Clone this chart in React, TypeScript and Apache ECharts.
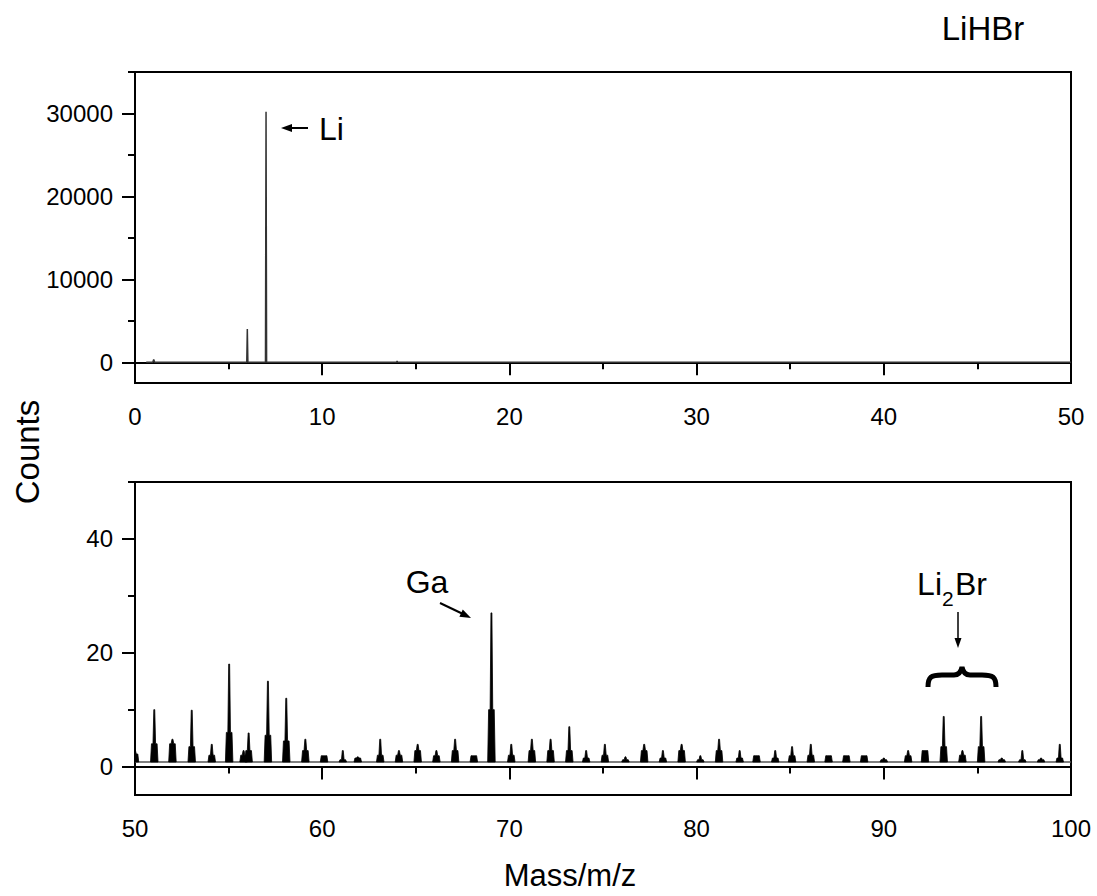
import React, { useEffect, useRef } from "react";
import * as echarts from "echarts";

// ---------- data ----------
// Top panel (m/z 0-50): spectrum trace points [mass, counts]
const topMass = [0.6, 0.95, 1.0, 1.05, 5.97, 6.0, 6.03, 6.97, 7.0, 7.03, 13.97, 14.0, 14.03, 50];
const topCounts = [0, 0, 350, 0, 0, 4000, 0, 0, 30200, 0, 0, 150, 0, 0];

// Bottom panel (m/z 50-100): peaks [mass, peak height, body height]
const peakMass = [
  50.0, 51.03, 52.0, 53.03, 54.1, 55.03, 55.8, 56.07, 57.1, 58.08, 59.1, 60.1, 61.1, 61.9,
  63.1, 64.1, 65.1, 66.1, 67.1, 68.1, 69.04, 70.1, 71.2, 72.2, 73.2, 74.1, 75.1, 76.2,
  77.2, 78.2, 79.2, 80.2, 81.2, 82.3, 83.2, 84.2, 85.1, 86.1, 87.05, 88.0, 88.95, 90.0,
  91.3, 92.2, 93.2, 94.2, 95.2, 96.3, 97.4, 98.4, 99.4,
];
const peakHeight = [
  2.8, 10, 4.8, 9.9, 3.9, 18, 2.8, 5.9, 15, 12, 4.8, 1.9, 2.8, 1.7,
  4.8, 2.8, 3.9, 2.8, 4.8, 1.9, 27, 3.9, 4.8, 4.8, 7.0, 2.8, 3.9, 1.7,
  3.9, 2.8, 3.9, 1.9, 4.8, 2.8, 1.9, 2.8, 3.5, 3.9, 1.9, 1.9, 1.9, 1.5,
  2.8, 2.8, 8.8, 2.8, 8.8, 1.5, 2.8, 1.5, 3.9,
];
const peakBody = [
  2.2, 4, 4, 3.5, 2, 6, 2, 2.8, 5.5, 4.5, 2.8, 1.9, 1.2, 1.5,
  2, 2, 2.8, 1.9, 2.8, 1.9, 10, 2, 2.8, 2.8, 2.8, 1.5, 2, 1.2,
  2.8, 1.5, 2.8, 1.2, 2.8, 1.5, 1.9, 1.5, 1.9, 2, 1.9, 1.9, 1.9, 1.2,
  1.9, 2.8, 3.5, 2, 3.5, 1.2, 1.2, 1.2, 1.5,
];
const baselineLevel = 0.8;

// Tick values
const topXTicks = [0, 10, 20, 30, 40, 50];
const botXTicks = [50, 60, 70, 80, 90, 100];
const topYLabels = [0, 10000, 20000, 30000];
const topYMinor = [5000, 15000, 25000, 35000];
const botYLabels = [0, 20, 40];
const botYMinor = [10, 30, 50];

const FONT = "'Liberation Sans', Arial, Helvetica, sans-serif";

export default function App() {
  const ref = useRef<HTMLDivElement>(null);
  useEffect(() => {
    if (!ref.current) return;
    echarts.graphic.registerShape(
      "brace",
      echarts.graphic.extendPath(
        "M0 20 C0 10 3 8 14 8 L26 8 C31 8 33 5 34 0 C35 5 37 8 42 8 L54 8 C65 8 68 10 68 20",
        {}
      )
    );
    const chart = echarts.init(ref.current, null, { renderer: "svg" });

    const topData = topMass.map((m, i) => [m, topCounts[i]]);
    const peaks = peakMass.map((m, i) => [m, peakHeight[i], peakBody[i]]);

    const axisLine = { show: true, lineStyle: { color: "#000", width: 2 } };
    const label = { color: "#000", fontSize: 24, fontFamily: FONT, formatter: (v: number) => String(v) };

    const xCommon = (grid: number, ticks: number[]) => ({
      type: "value",
      gridIndex: grid,
      min: ticks[0],
      max: ticks[ticks.length - 1],
      interval: ticks[1] - ticks[0],
      axisLine,
      axisTick: { show: true, inside: false, length: 13, lineStyle: { color: "#000", width: 2 } },
      minorTick: { show: true, splitNumber: 2, length: 7, lineStyle: { color: "#000", width: 2 } },
      axisLabel: { ...label, margin: 21 },
      splitLine: { show: false },
      minorSplitLine: { show: false },
    });

    const yMajor = (grid: number, min: number, max: number, vals: number[]) => ({
      type: "value",
      gridIndex: grid,
      min,
      max,
      axisLine,
      axisTick: { show: true, length: 13, customValues: vals, lineStyle: { color: "#000", width: 2 } },
      axisLabel: { ...label, margin: 22, customValues: vals },
      splitLine: { show: false },
    });
    const yMinor = (grid: number, min: number, max: number, vals: number[]) => ({
      type: "value",
      gridIndex: grid,
      min,
      max,
      position: "left",
      offset: 0,
      axisLine: { show: false },
      axisTick: { show: true, length: 7, customValues: vals, lineStyle: { color: "#000", width: 2 } },
      axisLabel: { show: false, customValues: vals },
      splitLine: { show: false },
    });

    chart.setOption({
      animation: false,
      backgroundColor: "#fff",
      textStyle: { fontFamily: FONT },
      grid: [
        { left: 135, top: 72, width: 936, height: 311, show: true, borderColor: "#000", borderWidth: 2, backgroundColor: "transparent" },
        { left: 135, top: 482, width: 936, height: 313, show: true, borderColor: "#000", borderWidth: 2, backgroundColor: "transparent" },
      ],
      xAxis: [xCommon(0, topXTicks), xCommon(1, botXTicks)],
      yAxis: [
        yMajor(0, -2500, 35000, topYLabels),
        yMinor(0, -2500, 35000, topYMinor),
        yMajor(1, -5, 50, botYLabels),
        yMinor(1, -5, 50, botYMinor),
      ],
      series: [
        {
          type: "line",
          xAxisIndex: 0,
          yAxisIndex: 0,
          data: topData,
          symbol: "none",
          lineStyle: { color: "#333", width: 1.5 },
          z: 3,
        },
        {
          type: "line",
          xAxisIndex: 1,
          yAxisIndex: 2,
          data: [
            [50, baselineLevel],
            [100, baselineLevel],
          ],
          symbol: "none",
          lineStyle: { color: "#555", width: 1.5 },
          z: 2,
        },
        {
          type: "custom",
          xAxisIndex: 1,
          yAxisIndex: 2,
          data: peaks,
          clip: true,
          renderItem: (params: any, api: any) => {
            const m = api.value(0);
            const h = api.value(1);
            const b = Math.min(api.value(2), h);
            const base = baselineLevel;
            const pts = [
              [m - 0.2, base],
              [m - 0.15, b],
              [m - 0.07, b],
              [m - 0.025, h],
              [m + 0.025, h],
              [m + 0.07, b],
              [m + 0.15, b],
              [m + 0.2, base],
            ].map((p) => api.coord(p));
            return {
              type: "polygon",
              shape: { points: pts },
              style: { fill: "#000", stroke: "#000", lineWidth: 0.8 },
            };
          },
          z: 3,
        },
      ],
      graphic: [
        // Title
        { type: "text", x: 983, y: 28, style: { text: "LiHBr", font: `33px ${FONT}`, fill: "#000", align: "center", verticalAlign: "middle" } },
        // Axis titles
        { type: "text", x: 27, y: 452, rotation: Math.PI / 2, style: { text: "Counts", font: `33px ${FONT}`, fill: "#000", align: "center", verticalAlign: "middle" } },
        { type: "text", x: 570, y: 875, style: { text: "Mass/m/z", font: `31px ${FONT}`, fill: "#000", align: "center", verticalAlign: "middle" } },
        // Li annotation
        { type: "line", shape: { x1: 308, y1: 128, x2: 288, y2: 128 }, style: { stroke: "#000", lineWidth: 2 } },
        { type: "polygon", shape: { points: [[281, 128], [292, 124], [292, 132]] }, style: { fill: "#000" } },
        { type: "text", x: 319, y: 129, style: { text: "Li", font: `32px ${FONT}`, fill: "#000", align: "left", verticalAlign: "middle" } },
        // Ga annotation
        { type: "text", x: 427, y: 582, style: { text: "Ga", font: `32px ${FONT}`, fill: "#000", align: "center", verticalAlign: "middle" } },
        { type: "line", shape: { x1: 440, y1: 603, x2: 463, y2: 614 }, style: { stroke: "#000", lineWidth: 2 } },
        { type: "polygon", shape: { points: [[471, 618], [459.4, 616.8], [462.8, 609.6]] }, style: { fill: "#000" } },
        // Li2Br annotation
        { type: "text", x: 942, y: 584, style: { text: "Li", font: `32px ${FONT}`, fill: "#000", align: "right", verticalAlign: "middle" } },
        { type: "text", x: 942, y: 598, style: { text: "2", font: `21px ${FONT}`, fill: "#000", align: "left", verticalAlign: "middle" } },
        { type: "text", x: 955, y: 584, style: { text: "Br", font: `32px ${FONT}`, fill: "#000", align: "left", verticalAlign: "middle" } },
        { type: "line", shape: { x1: 958, y1: 612, x2: 958, y2: 640 }, style: { stroke: "#000", lineWidth: 1.5 } },
        { type: "polygon", shape: { points: [[958, 648], [954.5, 638], [961.5, 638]] }, style: { fill: "#000" } },
        { type: "brace", x: 928, y: 667, style: { stroke: "#000", lineWidth: 5, fill: "none" } },
      ],
    });
    return () => chart.dispose();
  }, []);
  return <div ref={ref} style={{ position: "fixed", left: 0, top: 0, width: 1097, height: 896 }} />;
}
